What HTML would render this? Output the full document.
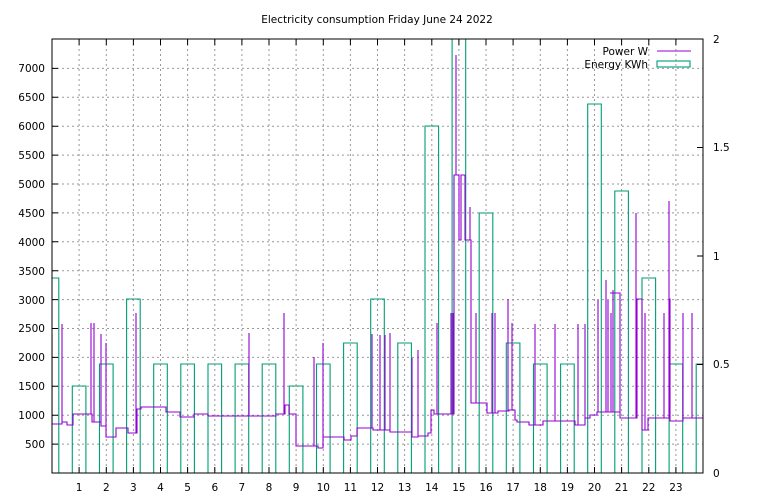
<!DOCTYPE html>
<html><head><style>
body{margin:0;background:#fff;}
svg{display:block;font-family:"DejaVu Sans",sans-serif;font-size:10.5px;}
</style></head><body>
<svg width="768" height="500" viewBox="0 0 768 500" xmlns="http://www.w3.org/2000/svg">
<rect width="768" height="500" fill="#fff"/>
<text x="377" y="23" text-anchor="middle">Electricity consumption Friday June 24 2022</text>
<defs><clipPath id="c"><rect x="52" y="39" width="651" height="434"/></clipPath></defs>
<g stroke="#999" stroke-width="1" stroke-dasharray="2,3">
<path d="M52 444.1H703M52 415.2H703M52 386.3H703M52 357.4H703M52 328.5H703M52 299.6H703M52 270.7H703M52 241.8H703M52 212.9H703M52 184H703M52 155.1H703M52 126.2H703M52 97.3H703M52 68.4H703"/>
<path d="M79.1 39V473M106.3 39V473M133.4 39V473M160.5 39V473M187.6 39V473M214.8 39V473M241.9 39V473M269 39V473M296.1 39V473M323.3 39V473M350.4 39V473M377.5 39V473M404.6 39V473M431.8 39V473M458.9 39V473M486 39V473M513.1 39V473M540.3 39V473M567.4 39V473M594.5 39V473M621.6 39V473M648.8 39V473M675.9 39V473"/>
</g>
<g clip-path="url(#c)" fill="none" stroke-width="1.1">
<path stroke="#009e73" d="M45.2 473V278H58.8V473M72.3 473V386H85.9V473M99.5 473V364H113.1V473M126.6 473V299H140.2V473M153.7 473V364H167.3V473M180.8 473V364H194.4V473M208 473V364H221.6V473M235.1 473V364H248.7V473M262.2 473V364H275.8V473M289.3 473V386H302.9V473M316.5 473V364H330.1V473M343.6 473V343H357.2V473M370.7 473V299H384.3V473M397.8 473V343H411.4V473M425 473V126H438.6V473M452.1 473V30H465.7V473M479.2 473V213H492.8V473M506.3 473V343H519.9V473M533.5 473V364H547.1V473M560.6 473V364H574.2V473M587.7 473V104H601.3V473M614.8 473V191H628.4V473M642 473V278H655.6V473M669.1 473V364H682.7V473M696.2 473V364H709.8V473"/>
<path stroke="#9400d3" d="M52 424V335V424H62V324V422H67V425H73V414H91V323V414H92V422H94V323V422H101V334V426H106V343V437H110V437H116V428H128V433H136V313V433H137V409H141V407H166V412H180V417H194V414H208V416H249V333V416H262V416H276V414H284V313V414H285V405H289V414H296V446H314V357V446H318V448H323V343V437H344V440H351V436H357V428H372V334V428H373V430H380V335V430H385V335V430H390V333V432H412V358V437H418V350V436H428V433H431V410H434V414H437V323V414H451V313V414H453V313V414H454V175H456V55V175H459V240H461V175H465V240H470V207V240H471V403H476V313V403H487V413H492V313V413H495V313V413H498V411H508V299V411H509V410H512V323V410H515V420H517V422H529V425H535V324V425H543V421H555V324V421H575V425H578V324V425H585V324V418H590V415H597V412H598V300V412H606V280V412H608V300V412H611V313V412H613V290V412H620V293H610M620 293V418H636V213V418H637V299H642V430H645V313V430H648V418H664V313V418H669V201V299H670V421H683V313V418H686V418H692V313V418H703"/>
</g>
<rect x="52" y="39" width="651" height="434" fill="none" stroke="#000" stroke-width="1"/>
<g stroke="#000" stroke-width="1">
<path d="M52 444.1h6M52 415.2h6M52 386.3h6M52 357.4h6M52 328.5h6M52 299.6h6M52 270.7h6M52 241.8h6M52 212.9h6M52 184h6M52 155.1h6M52 126.2h6M52 97.3h6M52 68.4h6"/>
<path d="M703 364.5h-6M703 256h-6M703 147.5h-6"/>
<path d="M79.1 473v-6M106.3 473v-6M133.4 473v-6M160.5 473v-6M187.6 473v-6M214.8 473v-6M241.9 473v-6M269 473v-6M296.1 473v-6M323.3 473v-6M350.4 473v-6M377.5 473v-6M404.6 473v-6M431.8 473v-6M458.9 473v-6M486 473v-6M513.1 473v-6M540.3 473v-6M567.4 473v-6M594.5 473v-6M621.6 473v-6M648.8 473v-6M675.9 473v-6"/>
<path d="M79.1 39v6M106.3 39v6M133.4 39v6M160.5 39v6M187.6 39v6M214.8 39v6M241.9 39v6M269 39v6M296.1 39v6M323.3 39v6M350.4 39v6M377.5 39v6M404.6 39v6M431.8 39v6M458.9 39v6M486 39v6M513.1 39v6M540.3 39v6M567.4 39v6M594.5 39v6M621.6 39v6M648.8 39v6M675.9 39v6"/>
</g>
<g text-anchor="end">
<text x="45" y="448">500</text><text x="45" y="419">1000</text><text x="45" y="390">1500</text><text x="45" y="361">2000</text><text x="45" y="332">2500</text><text x="45" y="304">3000</text><text x="45" y="275">3500</text><text x="45" y="246">4000</text><text x="45" y="217">4500</text><text x="45" y="188">5000</text><text x="45" y="159">5500</text><text x="45" y="130">6000</text><text x="45" y="101">6500</text><text x="45" y="72">7000</text>
</g>
<g text-anchor="start">
<text x="713" y="477">0</text><text x="713" y="368">0.5</text><text x="713" y="260">1</text><text x="713" y="151">1.5</text><text x="713" y="43">2</text>
</g>
<g text-anchor="middle">
<text x="79.1" y="491">1</text><text x="106.3" y="491">2</text><text x="133.4" y="491">3</text><text x="160.5" y="491">4</text><text x="187.6" y="491">5</text><text x="214.8" y="491">6</text><text x="241.9" y="491">7</text><text x="269" y="491">8</text><text x="296.1" y="491">9</text><text x="323.3" y="491">10</text><text x="350.4" y="491">11</text><text x="377.5" y="491">12</text><text x="404.6" y="491">13</text><text x="431.8" y="491">14</text><text x="458.9" y="491">15</text><text x="486" y="491">16</text><text x="513.1" y="491">17</text><text x="540.3" y="491">18</text><text x="567.4" y="491">19</text><text x="594.5" y="491">20</text><text x="621.6" y="491">21</text><text x="648.8" y="491">22</text><text x="675.9" y="491">23</text>
</g>
<text x="648" y="55" text-anchor="end">Power W</text>
<text x="648" y="68" text-anchor="end">Energy KWh</text>
<path d="M657 51H691" stroke="#9400d3" stroke-width="1"/>
<rect x="657" y="61" width="33" height="6" fill="none" stroke="#009e73" stroke-width="1.1"/>
</svg>
</body></html>
